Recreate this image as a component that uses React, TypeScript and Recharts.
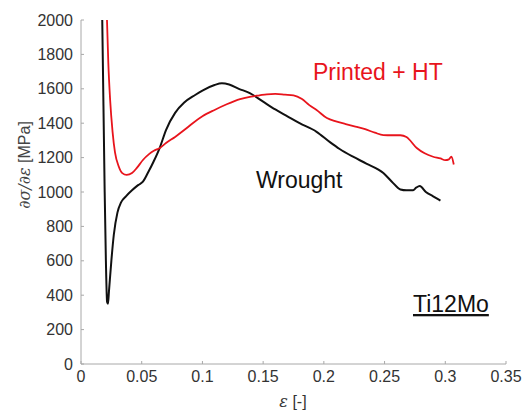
import React from 'react';
import { LineChart, Line, XAxis, YAxis } from 'recharts';

// strain [-] and tangent modulus [MPa]
const wroughtStrain = [
  0.0175, 0.0185, 0.0195, 0.0205, 0.0215, 0.0222, 0.023, 0.025, 0.027, 0.03,
  0.033, 0.037, 0.042, 0.047, 0.051, 0.055, 0.06, 0.065, 0.07, 0.0775, 0.085,
  0.094, 0.1, 0.11, 0.116, 0.122, 0.13, 0.139, 0.15, 0.16, 0.17, 0.18, 0.194,
  0.205, 0.213, 0.224, 0.235, 0.249, 0.256, 0.263, 0.268, 0.2735, 0.276,
  0.279, 0.284, 0.29, 0.296,
];
const wroughtModulus = [
  2000, 1500, 1000, 600, 360, 350, 420, 600, 750, 880, 940, 975, 1010, 1040,
  1060, 1110, 1180, 1260, 1360, 1460, 1520, 1564, 1590, 1622, 1632, 1625,
  1600, 1575, 1525, 1480, 1440, 1400, 1350, 1290, 1250, 1205, 1165, 1110,
  1060, 1015, 1010, 1010, 1025, 1035, 1000, 975, 950,
];

const printedStrain = [
  0.0214, 0.0225, 0.024, 0.026, 0.028, 0.031, 0.034, 0.0376, 0.042, 0.046,
  0.051, 0.056, 0.06, 0.065, 0.07, 0.0775, 0.085, 0.092, 0.1, 0.11, 0.12,
  0.131, 0.14, 0.147, 0.153, 0.16, 0.168, 0.175, 0.182, 0.188, 0.194, 0.2025,
  0.21, 0.218, 0.226, 0.234, 0.242, 0.249, 0.256, 0.263, 0.268, 0.2765, 0.283,
  0.29, 0.296, 0.3, 0.303, 0.305, 0.307,
];
const printedModulus = [
  2000, 1750, 1535, 1350, 1230, 1150, 1110, 1099, 1110, 1140, 1186, 1220,
  1240, 1256, 1285, 1320, 1360, 1400, 1440, 1477, 1510, 1540, 1555, 1562,
  1568, 1570, 1566, 1562, 1540, 1505, 1477, 1430, 1410, 1395, 1380, 1365,
  1345, 1331, 1330, 1330, 1320, 1256, 1225, 1205, 1195, 1185, 1190, 1205,
  1160,
];

const xTicks = [0, 0.05, 0.1, 0.15, 0.2, 0.25, 0.3, 0.35];
const yTicks = [0, 200, 400, 600, 800, 1000, 1200, 1400, 1600, 1800, 2000];

const wrought = wroughtStrain.map((e, i) => ({ e, v: wroughtModulus[i] }));
const printed = printedStrain.map((e, i) => ({ e, v: printedModulus[i] }));

const tickStyle = { fill: '#333333', fontSize: 16, fontFamily: 'Liberation Sans, Arial, sans-serif' };

export default function App() {
  return (
    <div style={{ position: 'absolute', left: 0, top: 0, width: 526, height: 417, background: '#fff' }}>
      <LineChart width={526} height={417} margin={{ top: 20, right: 20, bottom: 0, left: 0 }}>
        <XAxis
          type="number"
          dataKey="e"
          domain={[0, 0.35]}
          ticks={xTicks}
          tickFormatter={(v) => `${v}`}
          height={53}
          stroke="#a8a8a8"
          tickSize={-3}
          tickMargin={10}
          tick={tickStyle}
          allowDuplicatedCategory={false}
        />
        <YAxis
          type="number"
          dataKey="v"
          domain={[0, 2000]}
          ticks={yTicks}
          allowDataOverflow
          width={81}
          stroke="#a8a8a8"
          tickSize={-3}
          tickMargin={11}
          tick={tickStyle}
        />
        <Line
          data={wrought}
          dataKey="v"
          type="monotone"
          stroke="#111111"
          strokeWidth={2}
          dot={false}
          isAnimationActive={false}
        />
        <Line
          data={printed}
          dataKey="v"
          type="monotone"
          stroke="#e8141c"
          strokeWidth={1.8}
          dot={false}
          isAnimationActive={false}
        />
      </LineChart>
      <svg
        width={526}
        height={417}
        style={{ position: 'absolute', left: 0, top: 0, pointerEvents: 'none' }}
      >
        <g fontFamily="Liberation Sans, Arial, sans-serif">
          <text x={313} y={80} fontSize={23} fill="#e8141c">Printed + HT</text>
          <text x={256} y={188} fontSize={23} fill="#111">Wrought</text>
          <text x={413} y={312} fontSize={23} fill="#111" textDecoration="underline">Ti12Mo</text>
          <text x={293} y={407} fontSize={16} fill="#333" textAnchor="middle">
            <tspan fontFamily="DejaVu Serif, serif" fontStyle="italic">ε</tspan> [-]
          </text>
          <text
            x={30}
            y={165}
            fontSize={16}
            fill="#444"
            textAnchor="middle"
            transform="rotate(-90 30 165)"
          >
            <tspan fontFamily="DejaVu Serif, serif" fontStyle="italic">∂σ/∂ε</tspan> [MPa]
          </text>
        </g>
      </svg>
    </div>
  );
}
